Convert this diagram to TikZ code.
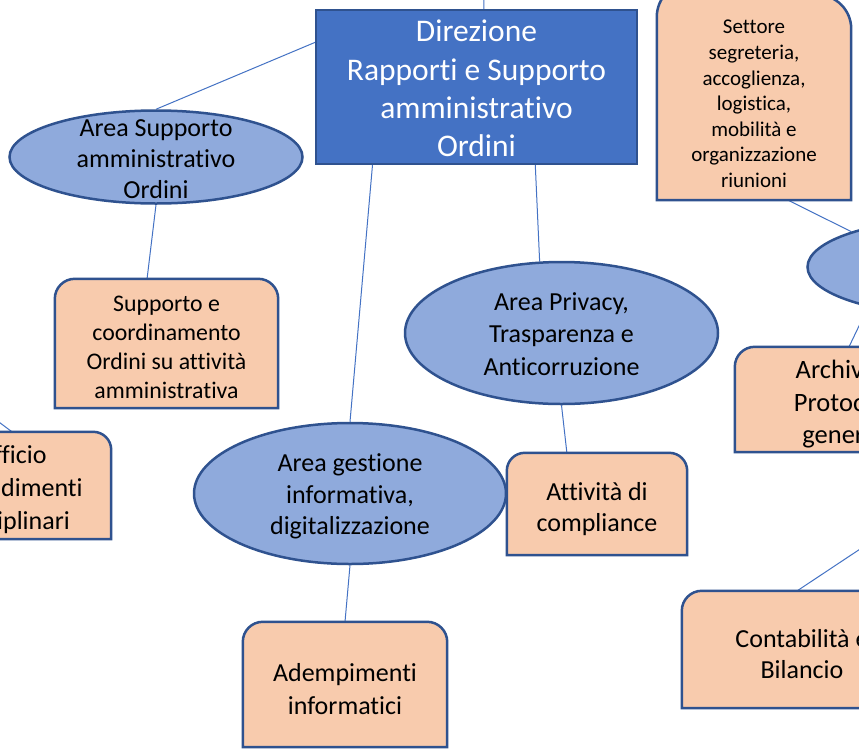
\documentclass[tikz,border=0pt]{standalone}
\usepackage{fontspec}
\setmainfont{Carlito}[Ligatures={NoCommon}]
\usetikzlibrary{shapes.geometric,backgrounds,calc}
\definecolor{dirfill}{HTML}{4472C4}
\definecolor{edgec}{HTML}{2F528F}
\definecolor{ellfill}{HTML}{8FAADC}
\definecolor{boxfill}{HTML}{F8CBAD}
\definecolor{connc}{HTML}{4472C4}
\tikzset{
  dirbox/.style={rectangle, draw=edgec, line width=2pt, fill=dirfill, inner sep=0pt},
  dirtext/.style={text=white, font=\fontsize{31.5}{38.4}\selectfont, align=center, inner sep=0pt},
  ell/.style={ellipse, draw=edgec, line width=2.5pt, fill=ellfill, inner sep=0pt},
  elltext/.style={align=center, inner sep=0pt, font=\fontsize{26}{31.5}\selectfont},
  orbox/.style={rectangle, inner sep=0pt},
  boxtext/.style={align=center, inner sep=0pt, font=\fontsize{26}{32}\selectfont},
  orshape/.style={draw=edgec, line width=2.5pt, fill=boxfill},
  connline/.style={draw=connc, line width=1pt},
}
\newcommand{\topround}[2]{%
  \path[orshape] (#1.south west) -- ([yshift=-#2]#1.north west)
    arc[start angle=180, end angle=90, radius=#2]
    -- ([xshift=-#2]#1.north east)
    arc[start angle=90, end angle=0, radius=#2]
    -- (#1.south east) -- cycle;}
\begin{document}
\begin{tikzpicture}[x=1pt,y=-1pt]
\useasboundingbox (0,0) rectangle (859,750);
\clip (0,0) rectangle (859,750);

% main box
\node[dirbox, minimum width=321pt, minimum height=154pt] (dir) at (476.5,87) {};
\node[dirtext] at ([yshift=-1.5pt]dir.center) {Direzione\\Rapporti e Supporto\\amministrativo\\Ordini};

% ellipses
\node[ell, minimum width=293pt, minimum height=93pt] (asupp) at (156,157) {};
\node[elltext, font=\fontsize{26}{31.3}\selectfont] at ([yshift=-2pt]asupp.center) {Area Supporto\\amministrativo\\Ordini};

\node[ell, minimum width=312pt, minimum height=141pt] (agest) at (350,493.5) {};
\node[elltext] at ([yshift=-3pt]agest.center) {Area gestione\\informativa,\\digitalizzazione};

\node[ell, minimum width=313pt, minimum height=142pt] (apriv) at (561.5,333) {};
\node[elltext, font=\fontsize{26}{32.5}\selectfont] at ([yshift=-1pt]apriv.center) {Area Privacy,\\Trasparenza e\\Anticorruzione};

\node[ell, minimum width=293pt, minimum height=96pt] (rell) at (954,267) {};

% boxes (shape nodes; shapes drawn on background)
\node[orbox, minimum width=223pt, minimum height=129pt] (supp) at (166.5,343.5) {};
\node[boxtext, font=\fontsize{23.8}{29}\selectfont] at ([yshift=-4pt]supp.center)
  {Supporto e\\coordinamento\\Ordini su attività\\amministrativa};
\node[orbox, minimum width=198pt, minimum height=107pt] (uff) at (12,485.5) {};
\node[boxtext, font=\fontsize{26}{33}\selectfont] at ([yshift=-4pt]uff.center)
  {Ufficio\\Procedimenti\\Disciplinari};
\node[orbox, minimum width=204pt, minimum height=125pt] (adem) at (345,684.5) {};
\node[boxtext, font=\fontsize{26}{33}\selectfont] at ([yshift=-5pt]adem.center)
  {Adempimenti\\informatici};
\node[orbox, minimum width=180pt, minimum height=102pt] (att) at (597,504) {};
\node[boxtext, font=\fontsize{26}{31}\selectfont] at ([yshift=-5pt]att.center)
  {Attività di\\compliance};
\node[orbox, minimum width=194pt, minimum height=193pt] (sett) at (754,103.5) {};
\node[boxtext, font=\fontsize{21}{25.6}\selectfont] at ([yshift=-0.5pt]sett.center)
  {Settore\\segreteria,\\accoglienza,\\logistica,\\mobilità e\\organizzazione\\riunioni};
\node[orbox, minimum width=228pt, minimum height=105pt] (arch) at (849,399.5) {};
\node[boxtext, font=\fontsize{26.5}{32.5}\selectfont] at ([yshift=-5pt]arch.center)
  {Archivio e\\Protocollo\\generale};
\node[orbox, minimum width=240pt, minimum height=117pt] (cont) at (802,649.5) {};
\node[boxtext, font=\fontsize{26}{31}\selectfont] at ([yshift=-4.5pt]cont.center)
  {Contabilità e\\Bilancio};

% off-picture ends of connectors
\coordinate (topend) at (484,-40);
\coordinate (uffend) at (-60,378);
\coordinate (contend) at (940,496);

\begin{scope}[on background layer]
  \clip (0,0) rectangle (859,750);
  \fill[white] (0,0) rectangle (859,750);
  % connectors
  \draw[connline] ($(dir.north west)!0.523!(dir.north east)$) -- (topend);
  \draw[connline] ($(dir.north west)!0.214!(dir.south west)$) -- (asupp.north);
  \draw[connline] ($(dir.south west)!0.178!(dir.south east)$) -- (agest.north);
  \draw[connline] ($(dir.south west)!0.682!(dir.south east)$) -- (apriv.107);
  \draw[connline] (asupp.south) -- ($(supp.north west)!0.413!(supp.north east)$);
  \draw[connline] (agest.south) -- (adem.north);
  \draw[connline] (apriv.south) -- ($(att.north west)!0.333!(att.north east)$);
  \draw[connline] ($(sett.south west)!0.675!(sett.south east)$) -- (rell.161);
  \draw[connline] (rell.205) -- (arch.north);
  \draw[connline] (uff.north) -- (uffend);
  \draw[connline] ($(cont.north west)!0.48!(cont.north east)$) -- (contend);
  % box shapes
  \topround{supp}{20pt}
  \topround{uff}{18pt}
  \topround{adem}{20pt}
  \topround{att}{18pt}
  \path[orshape] (sett.south west) -- ([yshift=-22pt]$(sett.north west)+(0,-12)$)
    arc[start angle=180, end angle=90, radius=34pt]
    -- ([xshift=-34pt]$(sett.north east)+(0,-12)$)
    arc[start angle=90, end angle=0, radius=34pt]
    -- (sett.south east) -- cycle;
  \topround{arch}{20pt}
  \topround{cont}{20pt}
\end{scope}
\end{tikzpicture}
\end{document}
